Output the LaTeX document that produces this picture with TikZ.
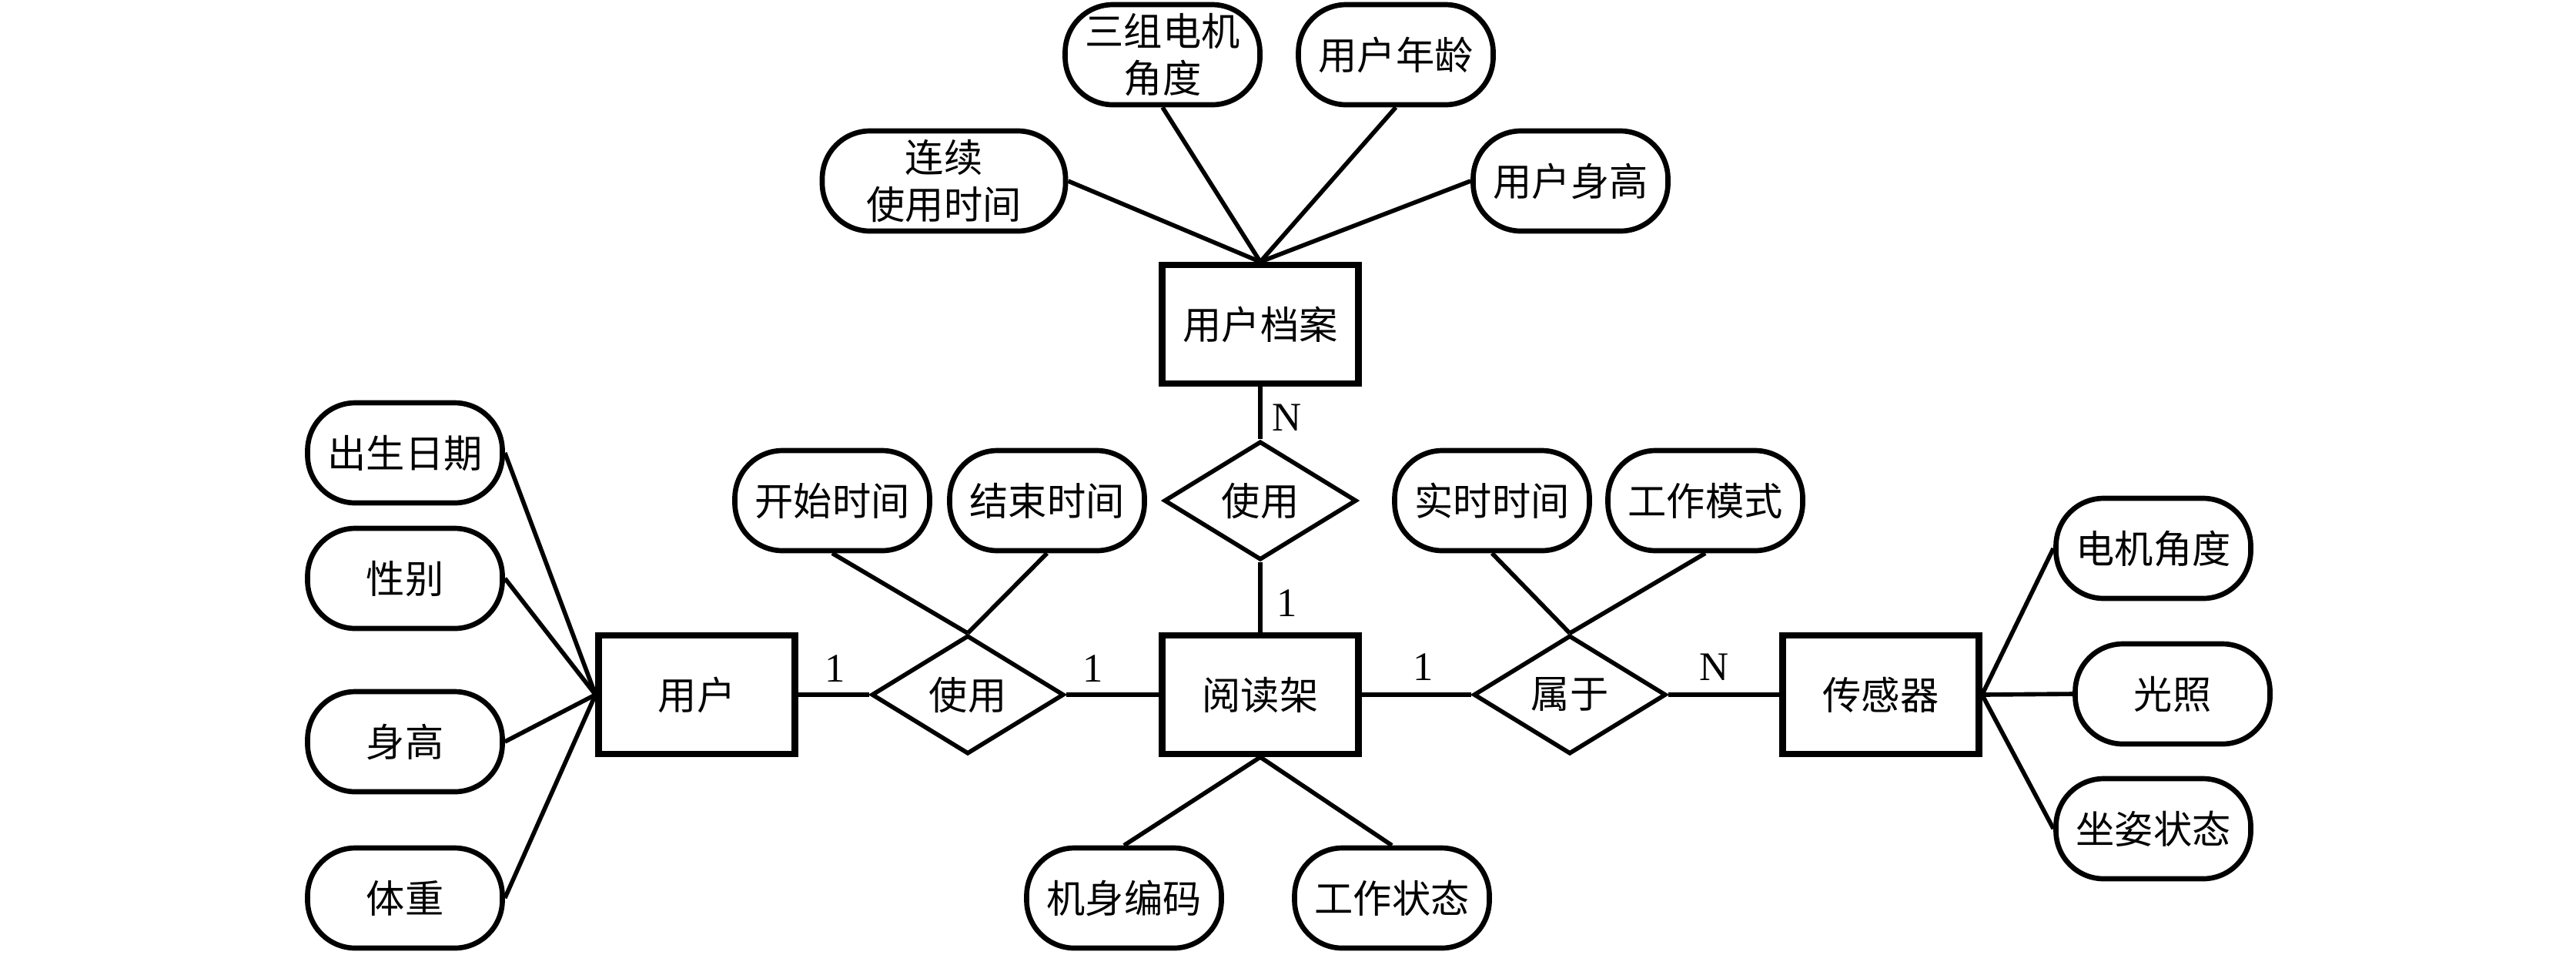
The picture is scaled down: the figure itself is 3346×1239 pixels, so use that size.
\documentclass[tikz,border=0pt]{standalone}
\usepackage{fontspec}
\setmainfont{Liberation Serif}
\newfontfamily\cjk{Noto Sans CJK SC}
\usetikzlibrary{shapes.geometric}
\tikzset{
  cjkfont/.style={font={\cjk\fontsize{14.3}{17.5}\selectfont}},
  ent/.style={draw, rectangle, line width=2.3pt, minimum width=25.5mm, minimum height=15.4mm, inner sep=0pt, cjkfont},
  rel/.style={draw, diamond, line width=1.6pt, minimum width=25mm, minimum height=15.4mm, inner sep=0pt, cjkfont},
  attr/.style={draw, rectangle, line width=1.9pt, rounded corners=6.2mm, minimum width=25.3mm, minimum height=13mm, inner sep=0pt, align=center, cjkfont},
  lnk/.style={line width=1.6pt},
  card/.style={font={\fontsize{15}{18}\selectfont}, inner sep=0pt}
}
\begin{document}
\begin{tikzpicture}[x=0.1mm, y=-0.1mm]
\useasboundingbox (0,0) rectangle (3346,1239);
% entities and relations
\node[ent] (user) at (905,902) {用户};
\node[rel] (use1) at (1257,902) {使用};
\node[ent] (rack) at (1637,902) {阅读架};
\node[rel] (belong) at (2039,902) {属于};
\node[ent] (sensor) at (2443,902) {传感器};
\node[ent] (arch) at (1637,421) {用户档案};
\node[rel] (use2) at (1637,650) {使用};
% attributes
\node[attr] (birth) at (526,588) {出生日期};
\node[attr] (sex) at (526,751) {性别};
\node[attr] (hgt) at (526,963) {身高};
\node[attr] (wgt) at (526,1166) {体重};
\node[attr] (start) at (1081,650) {开始时间};
\node[attr] (finish) at (1360,650) {结束时间};
\node[attr] (rt) at (1938,650) {实时时间};
\node[attr] (mode) at (2215,650) {工作模式};
\node[attr] (motor) at (2797,712) {电机角度};
\node[attr] (light) at (2822,901) {光照};
\node[attr] (posture) at (2797,1076) {坐姿状态};
\node[attr] (code) at (1460,1166) {机身编码};
\node[attr] (state) at (1808,1166) {工作状态};
\node[attr, minimum width=31.6mm] (cont) at (1226,235) {连续\\使用时间};
\node[attr] (three) at (1510,71) {三组电机\\角度};
\node[attr] (age) at (1813,71) {用户年龄};
\node[attr] (uh) at (2040,235) {用户身高};
% connectors
\draw[lnk] (user) -- (use1);
\draw[lnk] (use1) -- (rack);
\draw[lnk] (rack) -- (belong);
\draw[lnk] (belong) -- (sensor);
\draw[lnk] (arch) -- (use2);
\draw[lnk] (use2) -- (rack);
\draw[lnk] (birth.east) -- (user.west);
\draw[lnk] (sex.east) -- (user.west);
\draw[lnk] (hgt.east) -- (user.west);
\draw[lnk] (wgt.east) -- (user.west);
\draw[lnk] (start.south) -- (use1.north);
\draw[lnk] (finish.south) -- (use1.north);
\draw[lnk] (rt.south) -- (belong.north);
\draw[lnk] (mode.south) -- (belong.north);
\draw[lnk] (code.north) -- (rack.south);
\draw[lnk] (state.north) -- (rack.south);
\draw[lnk] (sensor.east) -- (motor.west);
\draw[lnk] (sensor.east) -- (light.west);
\draw[lnk] (sensor.east) -- (posture.west);
\draw[lnk] (cont.east) -- (arch.north);
\draw[lnk] (three.south) -- (arch.north);
\draw[lnk] (age.south) -- (arch.north);
\draw[lnk] (uh.west) -- (arch.north);
% cardinalities
\node[card] (c1) at (1085,868) {1};
\node[card] (c2) at (1420,868) {1};
\node[card] (c3) at (1849,866) {1};
\node[card] (c4) at (2227,866) {N};
\node[card] (c5) at (1672,542) {N};
\node[card] (c6) at (1672,783) {1};
\end{tikzpicture}
\end{document}
